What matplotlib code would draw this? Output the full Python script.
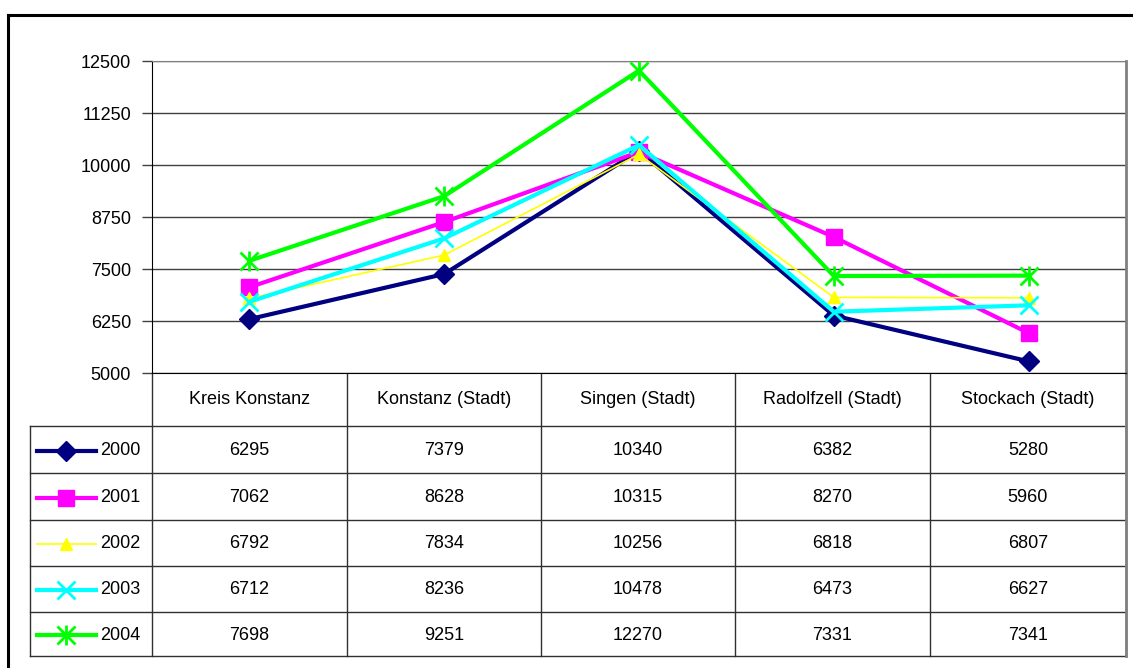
import matplotlib.pyplot as plt
from matplotlib.lines import Line2D

plt.rcParams['font.family'] = ['Liberation Sans', 'DejaVu Sans']

# Daten
orte = ["Kreis Konstanz", "Konstanz (Stadt)", "Singen (Stadt)",
        "Radolfzell (Stadt)", "Stockach (Stadt)"]
jahre = ["2000", "2001", "2002", "2003", "2004"]
w2000 = [6295, 7379, 10340, 6382, 5280]
w2001 = [7062, 8628, 10315, 8270, 5960]
w2002 = [6792, 7834, 10256, 6818, 6807]
w2003 = [6712, 8236, 10478, 6473, 6627]
w2004 = [7698, 9251, 12270, 7331, 7341]
yticks = [5000, 6250, 7500, 8750, 10000, 11250, 12500]

serien = [w2000, w2001, w2002, w2003, w2004]
stile = [
    dict(color='#000080', lw=3, marker='D', ms=10, mec='#000080'),
    dict(color='#FF00FF', lw=3, marker='s', ms=11, mec='#FF00FF'),
    dict(color='#FFFF00', lw=1.2, marker='^', ms=8, mec='#FFFF00'),
    dict(color='#00FFFF', lw=3, marker='x', ms=13, mew=2),
    dict(color='#00FF00', lw=3, marker='x', ms=13, mew=2),
]
fs = 13

W, H = 1133, 668
fig = plt.figure(figsize=(W / 100, H / 100), dpi=100)

# Diagrammfläche
x0, x1, ytop, ybot = 152, 1126, 61, 373
ax = fig.add_axes([x0 / W, 1 - ybot / H, (x1 - x0) / W, (ybot - ytop) / H])
xs = range(len(orte))
for i, (werte, st) in enumerate(zip(serien, stile)):
    ax.plot(xs, werte, zorder=3 + i, **st)
    if i == 4:
        ax.plot(xs, werte, ls='none', marker='|', ms=14, mew=2,
                color=st['color'], zorder=3 + i)

ax.set_xlim(-0.5, len(orte) - 0.5)
ax.set_ylim(5000, 12500)
ax.set_yticks(yticks)
ax.set_yticklabels([str(t) for t in yticks], fontsize=fs)
ax.set_xticks([])
ax.grid(axis='y', color='#404040', lw=1)
ax.tick_params(axis='y', length=7, width=1, pad=8, color='#404040')
ax.spines['left'].set_color('black')
ax.spines['bottom'].set_color('black')
ax.spines['top'].set_color('#808080')
ax.spines['right'].set_color('#808080')
ax.spines['right'].set_linewidth(2)
ax.set_axisbelow(True)

# Overlay in Pixelkoordinaten für Tabelle und Rahmen
ov = fig.add_axes([0, 0, 1, 1], zorder=-1)
ov.set_xlim(0, W)
ov.set_ylim(H, 0)
ov.axis('off')

fig.add_artist(Line2D([8 / W, 1], [1 - 15 / H, 1 - 15 / H], color='black', lw=2.2))
fig.add_artist(Line2D([8 / W, 8 / W], [0, 1 - 15 / H], color='black', lw=2.2))

spalten = [152, 347, 541, 735, 930, 1126]
zeilen = [426, 473, 520, 566, 612, 656]
lc = '#303030'
for xv in spalten:
    ov.plot([xv, xv], [ybot, zeilen[-1]], color=lc, lw=1)
ov.plot([30, 30], [zeilen[0], zeilen[-1]], color=lc, lw=1)
for yv in zeilen:
    ov.plot([30, x1], [yv, yv], color=lc, lw=1)
ov.plot([x1, x1], [ybot, zeilen[-1]], color='#808080', lw=2)

for j, ort in enumerate(orte):
    xc = (spalten[j] + spalten[j + 1]) / 2
    ov.text(xc, (ybot + zeilen[0]) / 2, ort, ha='center', va='center', fontsize=fs)

for i, (jahr, werte, st) in enumerate(zip(jahre, serien, stile)):
    yc = (zeilen[i] + zeilen[i + 1]) / 2 + 1
    ov.plot([37, 96], [yc, yc], color=st['color'], lw=st['lw'])
    ov.plot([66], [yc], ls='none', **{k: v for k, v in st.items() if k != 'lw'})
    if i == 4:
        ov.plot([66], [yc], ls='none', marker='|', ms=14, mew=2, color=st['color'])
    ov.text(100, yc, jahr, ha='left', va='center', fontsize=fs)
    for j, v in enumerate(werte):
        xc = (spalten[j] + spalten[j + 1]) / 2
        ov.text(xc, yc, str(v), ha='center', va='center', fontsize=fs)

fig.savefig('out.png', dpi=100, facecolor='white')
